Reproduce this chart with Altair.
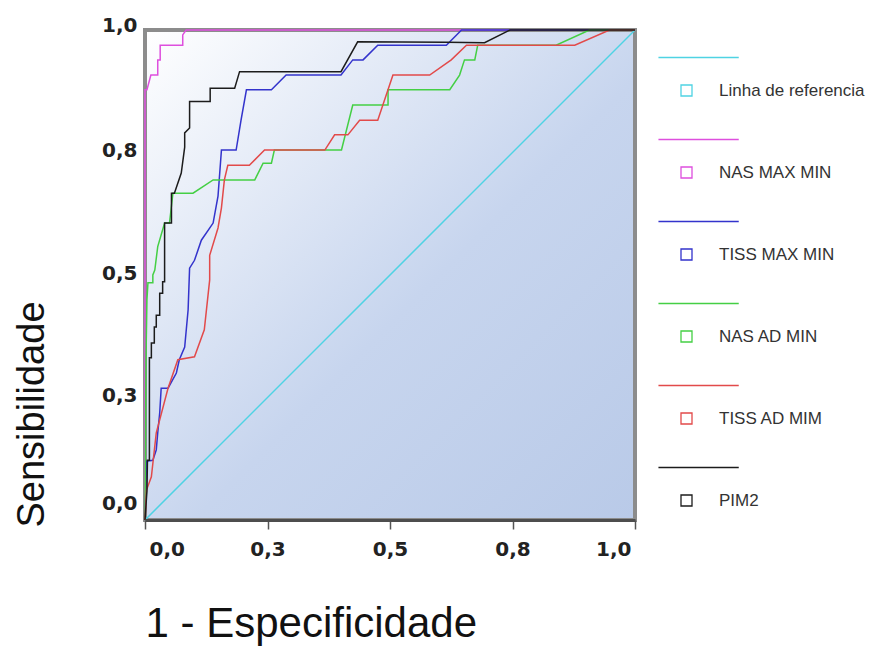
import altair as alt
import pandas as pd

# ---------------- data ----------------
series_names = ["Linha de referencia", "NAS MAX MIN", "TISS MAX MIN",
                "NAS AD MIN", "TISS AD MIM", "PIM2"]
series_colors = ["#4fd3e3", "#de4fde", "#3333cc", "#44cf44", "#e24a4a", "#1c1c1c"]

ref_x = [0.0, 1.0]
ref_y = [0.0, 1.0]

nas_max_x = [0, 0, 0.004, 0.012, 0.026, 0.026, 0.031, 0.031, 0.077, 0.077, 0.084, 1.0]
nas_max_y = [0, 0.878, 0.878, 0.908, 0.908, 0.939, 0.939, 0.969, 0.969, 0.990, 1.0, 1.0]

tiss_max_x = [0, 0.003, 0.016, 0.023, 0.026, 0.030, 0.033, 0.047, 0.064, 0.070, 0.081,
              0.088, 0.091, 0.101, 0.115, 0.139, 0.149, 0.156, 0.186, 0.196, 0.207,
              0.258, 0.288, 0.400, 0.424, 0.445, 0.475, 0.615, 0.646, 1.0]
tiss_max_y = [0, 0.120, 0.122, 0.143, 0.178, 0.218, 0.269, 0.269, 0.300, 0.327, 0.353,
              0.429, 0.514, 0.530, 0.571, 0.606, 0.661, 0.755, 0.755, 0.816, 0.878,
              0.878, 0.908, 0.908, 0.939, 0.939, 0.969, 0.969, 1.0, 1.0]

nas_ad_x = [0, 0.002, 0.004, 0.006, 0.016, 0.016, 0.020, 0.026, 0.040, 0.050, 0.057,
            0.098, 0.139, 0.224, 0.241, 0.258, 0.264, 0.401, 0.424, 0.496, 0.496,
            0.622, 0.642, 0.652, 0.673, 0.679, 0.839, 0.907, 1.0]
nas_ad_y = [0, 0.330, 0.450, 0.484, 0.484, 0.500, 0.510, 0.558, 0.606, 0.606, 0.667,
            0.667, 0.694, 0.694, 0.728, 0.728, 0.755, 0.755, 0.847, 0.847, 0.878,
            0.878, 0.908, 0.939, 0.939, 0.969, 0.969, 1.0, 1.0]

tiss_ad_x = [0, 0.003, 0.013, 0.023, 0.047, 0.067, 0.101, 0.121, 0.132, 0.132, 0.149,
             0.156, 0.162, 0.169, 0.213, 0.244, 0.367, 0.387, 0.414, 0.438, 0.475,
             0.506, 0.581, 0.625, 0.656, 0.877, 0.948, 1.0]
tiss_ad_y = [0, 0.061, 0.088, 0.178, 0.269, 0.327, 0.333, 0.388, 0.490, 0.540, 0.596,
             0.637, 0.694, 0.724, 0.724, 0.755, 0.755, 0.786, 0.786, 0.816, 0.816,
             0.908, 0.908, 0.939, 0.969, 0.969, 1.0, 1.0]

pim2_x = [0, 0.004, 0.005, 0.009, 0.009, 0.013, 0.013, 0.019, 0.019, 0.023, 0.023,
          0.030, 0.030, 0.036, 0.036, 0.040, 0.040, 0.054, 0.054, 0.060, 0.074,
          0.081, 0.081, 0.091, 0.091, 0.133, 0.133, 0.183, 0.193, 0.400, 0.434,
          0.615, 0.693, 0.745, 1.0]
pim2_y = [0, 0.060, 0.122, 0.122, 0.331, 0.331, 0.361, 0.361, 0.394, 0.394, 0.418,
          0.418, 0.463, 0.463, 0.486, 0.486, 0.606, 0.606, 0.667, 0.667, 0.708,
          0.761, 0.790, 0.800, 0.854, 0.854, 0.881, 0.881, 0.915, 0.915, 0.976,
          0.975, 0.974, 1.0, 1.0]

tick_values = [0.0, 0.25, 0.5, 0.75, 1.0]
tick_labels = ["0,0", "0,3", "0,5", "0,8", "1,0"]

# plot-area extent (data units)
area_x = [0.0, 1.0]
area_y = [0.0, 1.0]

curves = [ref_x, ref_y, nas_max_x, nas_max_y, tiss_max_x, tiss_max_y,
          nas_ad_x, nas_ad_y, tiss_ad_x, tiss_ad_y, pim2_x, pim2_y]

rows = []
for k, name in enumerate(series_names):
    xs, ys = curves[2 * k], curves[2 * k + 1]
    for i, (xv, yv) in enumerate(zip(xs, ys)):
        rows.append({"serie": name, "fpr": xv, "tpr": yv, "idx": i})
df = pd.DataFrame(rows)
bg_df = pd.DataFrame({"fpr": [area_x[0]], "fpr2": [area_x[1]],
                      "tpr": [area_y[0]], "tpr2": [area_y[1]]})

label_expr = " : ".join(
    f"datum.value == {v} ? '{l}'" for v, l in zip(tick_values, tick_labels)
) + " : ''"

legend_symbol = "M-5.1,-6H9.5M-1,-1H1V1H-1Z"

xscale = alt.Scale(domain=[0, 1], nice=False)
yscale = alt.Scale(domain=[0, 1], nice=False)

x_axis = alt.Axis(values=tick_values, labelExpr=label_expr,
                  labelFlush=True, labelFlushOffset=-4,
                  labelFont="DejaVu Sans", labelFontWeight="bold",
                  labelFontSize=20, labelColor="#222222", labelPadding=10,
                  tickSize=9, tickColor="#555555", tickWidth=1.5,
                  domainColor="#4d4d4d", domainWidth=3, grid=False,
                  zindex=1,
                  titleFont="Liberation Sans",
                  titleFontSize=42, titleFontWeight="normal",
                  titleColor="#111111", titleX=0, titleY=116,
                  titleAlign="left", titleBaseline="alphabetic")
y_axis = alt.Axis(values=tick_values, labelExpr=label_expr,
                  ticks=False, domain=False, grid=False,
                  labelFont="DejaVu Sans", labelFontWeight="bold",
                  labelFontSize=20, labelColor="#222222", labelPadding=8,
                  labelOffset={"condition": [{"test": "datum.value == 0", "value": -17},
                                             {"test": "datum.value == 1", "value": -5}],
                               "value": -2},
                  titleFont="Liberation Sans",
                  titleFontSize=38, titleFontWeight="normal",
                  titleColor="#111111", titleX=-102, titleY=384,
                  titleAngle=270, titleAlign="center",
                  titleBaseline="alphabetic")

x_title = "1 - Especificidade"
y_title = "Sensibilidade"

gradient = alt.LinearGradient(
    gradient="linear", x1=0, y1=0, x2=1, y2=1,
    stops=[alt.GradientStop(offset=0, color="#ffffff"),
           alt.GradientStop(offset=0.55, color="#c7d5ee"),
           alt.GradientStop(offset=1, color="#b9cae8")])

bg = alt.Chart(bg_df).mark_rect(color=gradient).encode(
    x=alt.X("fpr:Q", scale=xscale, axis=x_axis, title=x_title), x2="fpr2:Q",
    y=alt.Y("tpr:Q", scale=yscale, axis=y_axis, title=y_title), y2="tpr2:Q")

frame = alt.Chart(bg_df).mark_rect(filled=False, stroke="#8c8c8c", strokeWidth=4).encode(
    x=alt.X("fpr:Q", scale=xscale, axis=x_axis, title=x_title), x2="fpr2:Q",
    y=alt.Y("tpr:Q", scale=yscale, axis=y_axis, title=y_title), y2="tpr2:Q")

lines = alt.Chart(df).mark_line(strokeWidth=1.5).encode(
    x=alt.X("fpr:Q", scale=xscale, axis=x_axis, title=x_title),
    y=alt.Y("tpr:Q", scale=yscale, axis=y_axis, title=y_title),
    color=alt.Color("serie:N",
                    scale=alt.Scale(domain=series_names, range=series_colors),
                    legend=alt.Legend(orient="none", legendX=533, legendY=52,
                                      title=None, padding=0,
                                      symbolType=legend_symbol, symbolSize=121,
                                      symbolStrokeWidth=1.3,
                                      symbolFillColor="transparent",
                                      labelFont="Liberation Sans", labelFontSize=17,
                                      labelColor="#333333", labelOffset=24,
                                      rowPadding=37)),
    order=alt.Order("idx:Q"),
)

chart = alt.layer(bg, frame, lines).properties(
    width=490,
    height=490,
    autosize=alt.AutoSizeParams(type="none"),
    padding={"left": 137, "top": 22, "right": 242, "bottom": 126},
).configure_view(
    strokeWidth=0,
)

chart.save("out.html", embed_options={"renderer": "svg", "actions": False})
